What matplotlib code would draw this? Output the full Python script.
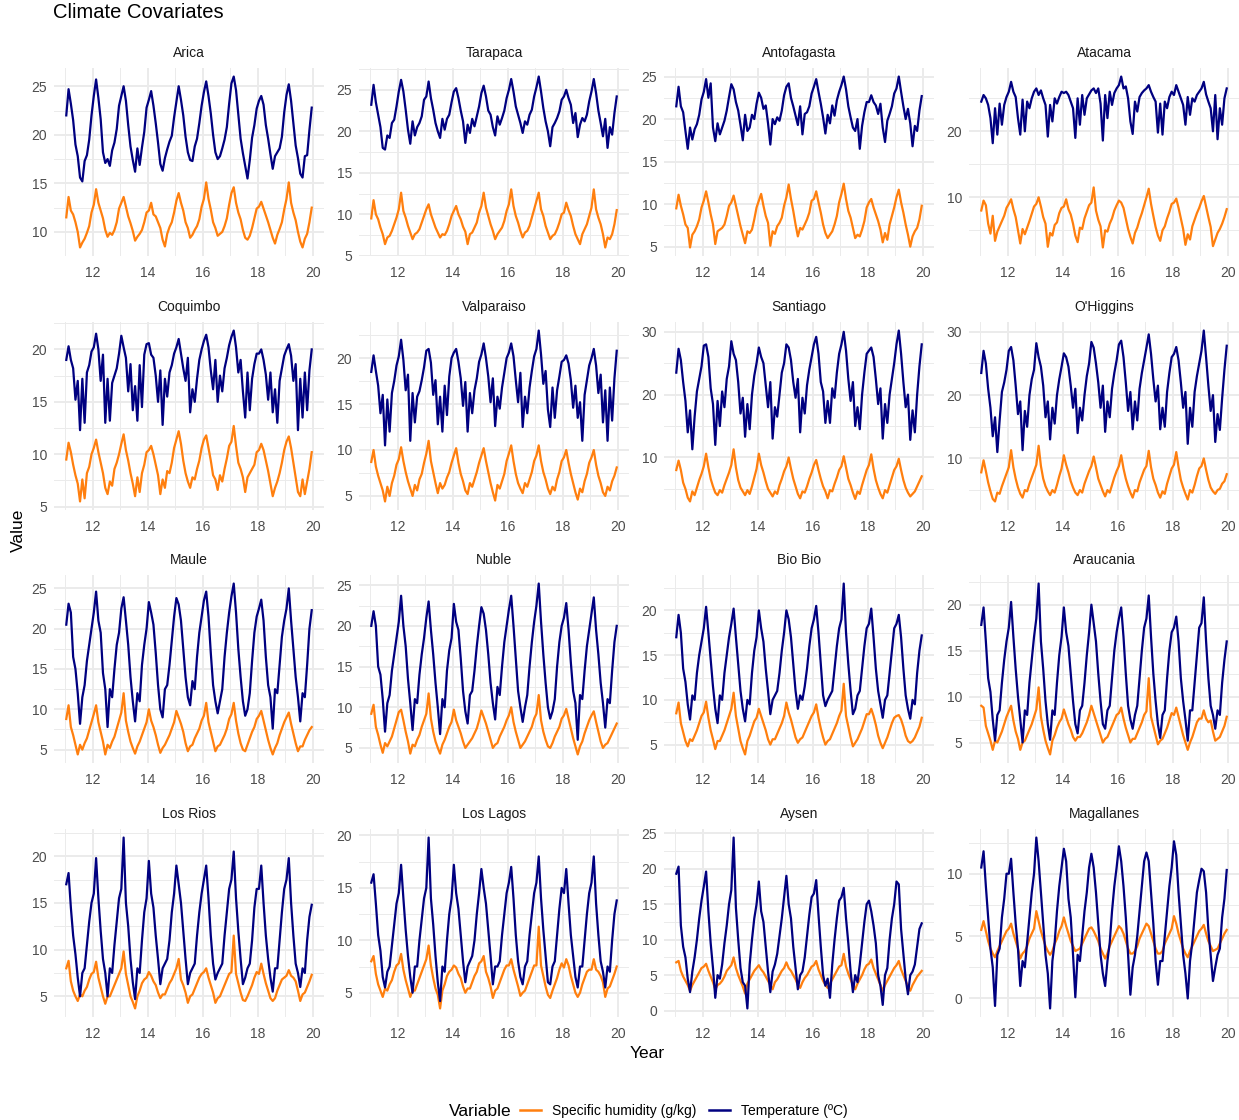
import numpy as np
import matplotlib
matplotlib.use("Agg")
import matplotlib.pyplot as plt
from matplotlib.ticker import MultipleLocator, AutoMinorLocator
from matplotlib.lines import Line2D

plt.rcParams['font.family'] = ['Liberation Sans', 'DejaVu Sans']

# monthly means, Jan 2011 .. Dec 2019 (one row per year)
arica_temp = [22.0, 24.7, 23.2, 21.5, 19.0, 17.8, 15.6, 15.2, 17.3, 17.9, 19.5, 22.0,
              24.0, 25.7, 23.8, 21.6, 18.2, 17.1, 17.5, 16.8, 18.4, 19.2, 20.6, 23.0,
              24.0, 25.0, 23.5, 21.0, 18.8, 17.4, 16.2, 18.6, 16.9, 18.7, 20.3, 22.8,
              23.6, 24.5, 23.0, 21.2, 19.2, 17.0, 16.3, 17.6, 18.5, 19.3, 19.9, 21.8,
              23.4, 25.0, 23.6, 22.0, 19.8, 18.2, 17.4, 17.3, 18.8, 19.6, 21.2, 23.0,
              24.4, 25.5, 24.0, 22.2, 20.0, 18.2, 17.5, 17.8, 18.6, 19.5, 20.8, 23.2,
              25.3, 26.0, 24.6, 22.1, 19.6, 18.1, 16.8, 15.5, 17.4, 19.7, 21.0, 22.7,
              23.5, 24.0, 23.1, 21.0, 19.6, 18.0, 16.5, 17.8, 18.2, 18.6, 19.8, 22.3,
              24.1, 25.2, 23.5, 21.2, 18.9, 17.6, 16.0, 15.6, 17.8, 17.9, 20.5, 22.8]
arica_hum = [11.5, 13.6, 12.2, 11.8, 11.0, 10.0, 8.4, 8.9, 9.3, 9.9, 10.6, 12.0,
             12.8, 14.4, 13.0, 12.2, 11.4, 10.2, 9.5, 9.9, 9.7, 10.2, 11.0, 12.4,
             13.0, 13.6, 12.6, 11.6, 10.9, 10.1, 9.1, 9.5, 9.8, 10.2, 11.0, 12.0,
             12.2, 13.0, 11.8, 11.6, 11.0, 10.4, 9.2, 8.5, 9.8, 10.5, 11.0, 12.0,
             13.2, 14.0, 13.0, 12.2, 11.0, 10.4, 9.4, 9.7, 10.2, 10.6, 11.3, 12.6,
             13.4, 15.1, 13.4, 12.3, 11.0, 10.4, 9.6, 9.8, 10.0, 10.6, 11.4, 12.8,
             14.0, 14.6, 13.0, 12.0, 11.3, 10.2, 9.4, 9.2, 9.6, 10.4, 11.4, 12.4,
             12.6, 13.1, 12.4, 11.7, 11.0, 10.2, 9.4, 8.8, 9.7, 10.3, 11.0, 12.3,
             13.4, 15.1, 13.0, 12.0, 11.2, 10.0, 9.0, 8.4, 9.3, 9.8, 11.0, 12.5]

tarapaca_temp = [23.2, 25.6, 23.5, 22.0, 20.5, 18.0, 17.8, 19.5, 19.2, 21.0, 21.4, 23.0,
                 24.8, 26.2, 24.8, 22.6, 20.2, 18.5, 21.2, 19.5, 20.5, 21.0, 21.8, 23.8,
                 24.2, 26.0, 24.0, 22.6, 21.0, 20.0, 19.2, 21.5, 20.2, 21.5, 22.0, 23.5,
                 24.8, 25.2, 24.0, 22.5, 21.2, 18.6, 20.8, 19.8, 21.5, 20.6, 21.8, 23.0,
                 24.6, 25.5, 24.2, 22.5, 22.0, 20.5, 19.5, 21.8, 20.8, 21.6, 22.5, 24.0,
                 25.0, 26.3, 24.8, 23.0, 22.0, 21.0, 19.8, 21.2, 20.8, 22.0, 22.6, 24.2,
                 25.3, 26.6, 24.8, 22.8, 21.2, 20.0, 18.2, 20.5, 21.0, 21.6, 22.4, 23.8,
                 24.2, 25.0, 24.0, 23.2, 21.0, 22.2, 19.3, 20.8, 21.6, 21.2, 22.0, 23.6,
                 24.8, 26.3, 24.6, 22.5, 21.0, 19.4, 21.5, 18.0, 20.5, 19.6, 22.2, 24.2]
tarapaca_hum = [9.5, 11.7, 10.0, 9.4, 8.4, 7.6, 6.4, 7.2, 7.4, 8.0, 8.8, 9.6,
                10.6, 12.6, 10.4, 9.6, 8.6, 7.8, 7.0, 7.6, 7.8, 8.2, 9.0, 9.8,
                10.6, 11.2, 10.0, 9.2, 8.4, 7.8, 7.2, 7.6, 7.5, 8.0, 8.8, 9.8,
                10.4, 11.0, 10.0, 9.4, 8.5, 7.9, 6.4, 7.6, 7.8, 8.4, 9.0, 10.2,
                11.0, 12.6, 10.8, 9.8, 8.8, 8.0, 7.0, 7.6, 8.0, 8.4, 9.2, 10.4,
                11.2, 13.0, 11.0, 9.8, 9.0, 8.0, 7.2, 7.8, 8.0, 8.6, 9.6, 10.6,
                11.6, 12.6, 10.6, 9.8, 8.6, 7.8, 7.0, 7.4, 7.6, 8.2, 9.0, 10.0,
                10.2, 11.4, 10.5, 9.8, 8.6, 7.6, 7.0, 6.4, 7.6, 8.2, 8.8, 9.8,
                10.8, 13.0, 10.6, 9.6, 8.8, 7.6, 6.0, 7.2, 7.0, 7.6, 8.8, 10.5]

antofagasta_temp = [21.5, 23.8, 21.5, 20.8, 18.6, 16.5, 19.0, 17.6, 18.8, 19.4, 20.5, 22.3,
                    23.2, 24.7, 22.5, 24.2, 19.0, 17.4, 19.5, 18.2, 19.0, 19.8, 21.0, 22.6,
                    24.1, 23.5, 22.0, 21.0, 19.3, 17.5, 20.5, 18.6, 19.0, 20.5, 20.0, 21.8,
                    23.1, 22.5, 21.2, 21.6, 19.5, 17.0, 20.0, 19.4, 20.2, 19.8, 21.0, 22.8,
                    23.8, 24.2, 22.5, 21.5, 20.4, 19.3, 21.5, 18.2, 20.6, 20.8, 21.5, 23.0,
                    23.8, 24.7, 23.2, 21.8, 20.2, 18.3, 20.5, 19.5, 21.6, 20.4, 22.2, 23.2,
                    24.0, 25.0, 23.5, 21.5, 20.2, 19.0, 18.6, 20.0, 16.5, 19.2, 20.8, 22.0,
                    22.0, 22.8, 22.0, 21.6, 20.6, 21.8, 19.0, 17.3, 19.8, 20.6, 21.5, 23.0,
                    23.6, 25.0, 23.2, 21.5, 20.0, 21.2, 19.5, 16.8, 19.2, 18.6, 21.0, 22.7]
antofagasta_hum = [9.5, 11.1, 9.8, 8.8, 7.6, 7.2, 4.9, 6.4, 6.8, 7.4, 8.2, 9.6,
                   10.4, 11.5, 10.2, 8.8, 7.6, 5.3, 6.8, 7.0, 7.2, 7.6, 8.6, 9.8,
                   10.2, 11.0, 9.8, 8.6, 7.4, 6.4, 5.4, 6.8, 6.6, 7.0, 8.2, 9.6,
                   10.4, 11.2, 9.8, 8.6, 7.8, 5.1, 6.8, 6.5, 7.4, 7.8, 8.4, 9.8,
                   10.8, 12.3, 10.6, 9.2, 7.6, 6.2, 7.2, 7.0, 7.6, 8.2, 9.0, 10.4,
                   10.6, 11.5, 10.2, 9.0, 7.6, 6.6, 6.0, 6.4, 6.8, 7.6, 8.6, 10.2,
                   11.2, 12.4, 10.6, 9.2, 8.4, 7.2, 6.0, 6.4, 6.2, 7.0, 8.0, 9.6,
                   10.2, 10.6, 9.6, 8.8, 8.0, 7.0, 5.5, 6.6, 5.8, 7.6, 8.6, 9.6,
                   10.8, 11.7, 10.2, 9.0, 7.6, 6.4, 5.0, 6.2, 6.8, 7.2, 8.2, 9.8]

atacama_temp = [24.5, 25.5, 25.0, 24.0, 22.0, 18.2, 23.5, 19.5, 24.2, 21.0, 24.0, 25.2,
                26.0, 27.5, 26.0, 25.2, 22.0, 19.5, 24.8, 20.0, 24.5, 23.5, 25.0, 26.0,
                26.5, 25.5, 26.2, 25.0, 24.0, 19.2, 24.0, 21.5, 25.0, 24.2, 25.2, 26.0,
                25.8, 26.0, 25.5, 24.5, 23.5, 19.0, 25.0, 21.0, 25.5, 22.5, 25.0, 25.6,
                26.2, 26.5, 25.8, 26.5, 24.2, 18.6, 25.5, 22.0, 26.0, 24.0, 25.8, 26.5,
                27.0, 28.3, 26.5, 26.8, 25.0, 21.5, 19.6, 24.5, 23.0, 25.2, 25.8, 26.2,
                26.5, 27.0, 26.0, 25.2, 24.5, 19.8, 24.2, 19.5, 24.5, 23.5, 25.2, 26.0,
                25.5, 27.0, 26.0, 25.0, 24.0, 21.0, 25.2, 22.5, 25.0, 24.5, 25.5, 26.0,
                26.5, 27.5, 25.6, 24.5, 23.5, 20.0, 25.5, 18.8, 23.5, 21.0, 25.0, 26.5]
atacama_hum = [8.0, 9.5, 8.8, 6.0, 4.5, 7.2, 3.4, 4.8, 5.6, 6.4, 7.2, 8.4,
               9.0, 9.7, 8.2, 7.0, 5.0, 3.0, 5.2, 4.4, 5.4, 6.4, 7.5, 8.6,
               9.0, 10.0, 8.6, 7.0, 6.0, 2.5, 4.6, 4.2, 5.8, 6.2, 7.6, 8.4,
               8.6, 9.7, 8.2, 7.4, 6.0, 4.2, 3.2, 5.4, 5.2, 6.8, 7.8, 8.8,
               9.2, 11.5, 8.0, 6.6, 5.6, 2.4, 5.0, 4.8, 6.0, 6.8, 8.0, 8.8,
               9.5, 9.2, 8.4, 6.8, 5.2, 4.0, 3.0, 4.6, 5.4, 6.6, 7.6, 8.8,
               10.0, 11.3, 9.0, 7.2, 5.5, 4.2, 3.4, 5.0, 5.6, 6.8, 7.8, 9.0,
               9.2, 9.8, 8.4, 6.8, 5.2, 2.8, 4.4, 3.6, 5.6, 6.6, 7.6, 8.4,
               9.4, 10.2, 8.6, 7.0, 5.5, 2.6, 3.6, 4.6, 5.2, 6.0, 7.0, 8.2]

coquimbo_temp = [19.0, 20.3, 19.0, 18.2, 15.2, 17.0, 12.3, 17.2, 13.0, 17.8, 18.5, 19.8,
                 20.2, 21.5, 20.0, 17.0, 19.5, 13.0, 17.2, 13.2, 16.8, 17.5, 18.2, 19.6,
                 21.3, 20.2, 19.2, 16.0, 18.6, 14.2, 16.5, 13.2, 18.5, 14.5, 19.5, 20.5,
                 20.6, 19.5, 19.2, 17.5, 15.0, 18.0, 12.8, 17.2, 15.5, 17.8, 18.5, 19.6,
                 20.2, 21.0, 19.6, 18.2, 17.0, 19.2, 14.0, 16.2, 15.0, 17.2, 19.0, 20.0,
                 20.8, 21.4, 20.2, 18.0, 16.2, 19.0, 15.0, 17.5, 16.0, 18.2, 19.2, 20.4,
                 21.2, 21.8, 20.2, 17.8, 19.0, 16.0, 13.5, 17.8, 14.2, 17.2, 18.6, 19.6,
                 19.6, 20.0, 19.0, 17.6, 15.2, 17.8, 14.0, 16.2, 13.0, 17.0, 18.2, 19.4,
                 20.0, 20.5, 19.4, 17.0, 18.6, 12.3, 17.2, 13.5, 17.8, 14.2, 18.0, 20.0]
coquimbo_hum = [9.5, 11.1, 10.2, 9.0, 8.0, 7.2, 5.5, 7.6, 5.8, 8.2, 8.8, 10.0,
                10.6, 11.4, 10.2, 9.2, 8.2, 6.8, 6.2, 7.4, 7.0, 8.6, 9.2, 10.0,
                11.0, 11.9, 10.4, 9.4, 8.2, 7.2, 6.0, 7.8, 6.4, 8.2, 9.0, 10.2,
                10.4, 10.8, 10.0, 9.0, 8.0, 6.2, 7.6, 6.8, 8.4, 8.2, 9.2, 10.6,
                11.4, 12.2, 11.0, 9.4, 8.2, 7.4, 6.8, 7.8, 7.6, 8.6, 9.4, 10.6,
                11.4, 11.8, 10.6, 9.4, 8.0, 7.6, 6.6, 8.0, 7.4, 8.6, 9.6, 10.8,
                11.2, 12.7, 10.8, 9.2, 8.6, 7.8, 6.4, 7.8, 8.2, 8.6, 9.0, 10.2,
                10.4, 11.0, 10.4, 9.4, 8.4, 7.2, 6.0, 6.8, 7.4, 8.2, 9.2, 10.4,
                11.2, 11.7, 10.6, 9.2, 7.8, 6.4, 6.0, 7.6, 6.2, 7.4, 8.6, 10.2]

valparaiso_temp = [18.5, 20.3, 18.6, 17.0, 14.0, 16.0, 10.5, 15.5, 12.0, 16.2, 17.5, 19.2,
                   20.2, 22.0, 19.8, 16.5, 18.2, 11.0, 16.2, 13.0, 15.8, 16.4, 17.6, 19.0,
                   20.8, 21.0, 19.5, 16.0, 17.6, 12.8, 15.8, 12.0, 17.0, 13.8, 18.0, 20.0,
                   20.6, 21.0, 19.6, 17.8, 14.8, 17.4, 12.0, 16.2, 14.0, 16.5, 17.8, 19.6,
                   20.4, 21.6, 20.0, 18.0, 15.2, 17.8, 12.6, 15.8, 14.5, 16.8, 18.4, 20.0,
                   20.6, 21.6, 20.2, 17.6, 15.2, 18.4, 12.5, 15.8, 14.0, 16.8, 18.6, 20.2,
                   21.0, 23.0, 20.4, 17.2, 18.6, 14.4, 12.5, 16.8, 13.5, 16.5, 18.0, 19.6,
                   19.8, 20.3, 19.4, 17.6, 14.6, 17.0, 13.5, 15.2, 11.0, 16.0, 17.6, 19.2,
                   20.0, 21.0, 19.2, 16.2, 18.2, 13.0, 16.5, 11.0, 16.8, 13.2, 17.8, 20.8]
valparaiso_hum = [8.7, 10.0, 8.2, 7.2, 6.4, 5.6, 4.4, 6.0, 5.0, 6.4, 7.2, 8.4,
                  9.0, 10.3, 8.8, 7.6, 6.6, 5.8, 5.0, 6.2, 5.6, 6.8, 7.4, 8.6,
                  9.6, 11.0, 8.8, 7.6, 6.4, 5.3, 6.4, 5.8, 6.2, 7.0, 7.6, 8.6,
                  9.4, 10.2, 8.6, 7.4, 6.6, 5.6, 5.2, 6.4, 6.0, 6.8, 7.6, 8.6,
                  9.4, 10.2, 8.8, 7.6, 6.4, 5.4, 4.5, 6.2, 5.8, 6.6, 7.4, 8.8,
                  9.6, 10.5, 8.8, 7.4, 6.4, 5.8, 5.3, 6.4, 6.0, 6.8, 7.6, 8.8,
                  9.4, 10.5, 8.8, 7.6, 6.8, 5.8, 5.2, 6.0, 5.6, 6.8, 7.6, 8.8,
                  9.2, 10.0, 8.6, 7.4, 6.4, 5.4, 4.6, 5.8, 5.4, 6.6, 7.4, 8.6,
                  9.2, 10.0, 8.4, 7.2, 6.4, 5.4, 5.0, 6.0, 5.6, 6.6, 7.2, 8.1]

santiago_temp = [23.5, 27.3, 25.5, 22.0, 19.0, 14.0, 17.5, 11.3, 16.5, 20.5, 22.5, 24.5,
                 27.8, 28.0, 26.0, 21.0, 18.5, 12.0, 19.0, 15.0, 20.5, 18.0, 22.5, 24.5,
                 28.5, 26.5, 25.5, 22.0, 17.0, 19.5, 13.3, 18.5, 14.5, 20.0, 23.0, 25.0,
                 27.5, 26.0, 25.0, 21.5, 18.0, 22.0, 13.0, 18.0, 16.5, 20.0, 23.5, 25.0,
                 28.0, 27.5, 25.5, 22.0, 19.5, 22.5, 14.0, 19.5, 17.0, 21.5, 24.0, 26.0,
                 28.0, 29.2, 26.5, 22.0, 20.5, 15.5, 19.0, 15.5, 21.0, 19.5, 23.5, 26.5,
                 28.0, 30.0, 27.0, 22.5, 19.0, 22.0, 15.0, 18.0, 14.5, 20.0, 23.5, 26.5,
                 27.0, 27.5, 26.0, 22.5, 18.5, 21.0, 13.0, 18.5, 15.5, 20.0, 22.5, 25.0,
                 28.0, 30.2, 26.5, 22.0, 18.0, 20.0, 12.8, 17.5, 14.0, 20.0, 24.5, 28.0]
santiago_hum = [8.0, 9.5, 8.0, 6.0, 5.0, 3.6, 3.0, 4.6, 4.0, 5.2, 6.4, 7.4,
                8.6, 10.6, 8.4, 6.6, 5.4, 4.4, 4.0, 4.8, 4.4, 5.6, 6.6, 7.6,
                8.8, 11.3, 8.4, 6.4, 5.2, 4.6, 4.0, 4.8, 4.2, 5.4, 6.8, 8.2,
                10.6, 8.8, 7.6, 6.2, 5.0, 4.4, 3.8, 4.6, 4.2, 5.6, 6.6, 7.8,
                8.6, 10.0, 8.2, 6.6, 5.4, 4.2, 3.5, 4.6, 4.4, 5.4, 6.6, 7.6,
                8.8, 9.6, 8.0, 6.6, 5.4, 4.6, 3.5, 4.8, 4.6, 5.8, 6.8, 8.0,
                8.6, 10.2, 8.4, 6.6, 5.6, 4.4, 3.4, 4.6, 4.2, 5.6, 6.8, 8.0,
                8.8, 10.5, 8.2, 6.4, 5.2, 4.2, 3.5, 4.8, 4.4, 5.6, 6.8, 8.0,
                8.6, 9.8, 8.0, 6.4, 5.2, 4.4, 3.8, 4.2, 4.6, 5.4, 6.2, 7.0]

ohiggins_temp = [23.5, 27.0, 25.0, 21.0, 18.0, 13.5, 16.5, 11.0, 16.0, 20.5, 22.0, 24.0,
                 27.0, 27.6, 25.5, 21.5, 17.0, 19.0, 11.3, 17.5, 15.0, 20.0, 22.5, 24.0,
                 28.2, 26.0, 24.5, 21.5, 16.5, 19.0, 13.0, 18.0, 15.5, 20.0, 22.5, 24.5,
                 26.6, 26.0, 24.5, 21.5, 18.0, 21.0, 14.0, 18.0, 16.0, 20.0, 23.0, 25.0,
                 28.4, 27.5, 25.0, 22.0, 18.0, 21.5, 14.2, 19.0, 16.5, 21.0, 23.5, 25.5,
                 28.0, 28.6, 26.0, 22.0, 17.5, 20.5, 14.6, 19.0, 16.0, 21.0, 23.5, 25.5,
                 27.5, 29.6, 26.5, 22.5, 19.0, 21.5, 14.6, 18.0, 15.0, 20.5, 23.5, 26.0,
                 26.5, 27.6, 25.5, 22.0, 18.0, 20.5, 12.3, 18.0, 15.0, 20.5, 23.0, 25.0,
                 27.0, 30.2, 26.0, 21.5, 17.5, 20.0, 12.6, 17.0, 14.5, 19.5, 24.0, 27.8]
ohiggins_hum = [7.8, 9.7, 8.0, 6.2, 4.8, 3.6, 3.2, 4.6, 4.4, 5.6, 6.6, 7.6,
                8.6, 11.3, 8.6, 6.8, 5.4, 4.4, 3.8, 5.0, 4.8, 6.0, 7.0, 8.0,
                9.0, 12.0, 8.8, 6.8, 5.6, 4.8, 4.2, 5.0, 4.6, 5.8, 7.2, 8.4,
                10.5, 9.0, 7.8, 6.4, 5.4, 4.6, 4.2, 5.0, 4.6, 6.0, 7.0, 8.0,
                8.8, 10.3, 8.6, 6.8, 5.8, 4.8, 4.0, 5.0, 4.6, 5.8, 7.0, 8.0,
                8.8, 10.5, 8.4, 6.8, 5.6, 4.6, 3.8, 5.0, 4.8, 6.2, 7.2, 8.2,
                8.8, 11.2, 8.6, 6.8, 5.8, 4.6, 3.8, 4.8, 4.4, 6.0, 7.2, 8.4,
                9.0, 11.0, 8.6, 6.6, 5.4, 4.4, 3.5, 5.0, 4.6, 5.8, 7.2, 8.4,
                8.8, 10.0, 8.2, 6.6, 5.4, 4.8, 4.4, 5.0, 5.2, 6.0, 6.4, 7.5]

maule_temp = [20.5, 23.1, 22.0, 16.5, 15.0, 12.0, 8.2, 11.5, 13.0, 16.0, 18.0, 20.0,
              22.0, 24.6, 21.0, 19.5, 14.5, 12.5, 7.8, 12.5, 11.5, 15.0, 18.0, 19.5,
              22.5, 23.9, 21.0, 18.0, 14.0, 11.0, 8.5, 12.0, 11.0, 15.5, 18.0, 20.0,
              23.3, 22.0, 20.5, 17.0, 13.0, 10.0, 9.0, 12.5, 13.0, 15.5, 18.5, 21.5,
              23.8, 23.0, 21.0, 17.5, 14.0, 11.5, 10.5, 13.5, 12.5, 16.5, 19.5, 21.5,
              23.5, 24.6, 21.5, 17.0, 13.0, 11.0, 9.5, 11.0, 12.5, 16.5, 19.5, 22.0,
              24.0, 25.6, 22.0, 17.5, 14.0, 11.0, 9.2, 10.0, 12.0, 16.0, 19.5, 21.5,
              22.5, 23.6, 21.0, 16.5, 13.0, 11.5, 7.6, 12.5, 12.0, 15.5, 19.0, 21.0,
              22.5, 25.0, 21.0, 17.5, 14.0, 11.5, 8.5, 12.0, 11.5, 15.5, 20.0, 22.3]
maule_hum = [8.8, 10.5, 7.8, 6.8, 5.6, 4.4, 5.6, 5.0, 5.8, 6.4, 7.4, 8.4,
             9.4, 10.5, 8.4, 7.2, 6.0, 4.4, 5.6, 5.2, 6.0, 6.6, 7.6, 8.6,
             9.6, 12.0, 8.6, 7.2, 6.0, 5.2, 4.5, 5.4, 6.0, 6.8, 7.6, 8.4,
             10.0, 8.6, 7.8, 6.8, 5.6, 4.6, 5.2, 5.6, 6.2, 6.8, 7.6, 8.4,
             9.8, 9.0, 8.2, 7.2, 5.8, 4.8, 5.4, 5.6, 6.4, 7.0, 7.6, 8.6,
             9.2, 10.8, 8.4, 7.2, 6.0, 4.8, 5.4, 5.6, 6.2, 6.8, 7.6, 8.8,
             9.4, 10.8, 8.6, 7.0, 5.8, 5.0, 4.8, 5.6, 6.4, 7.2, 7.8, 8.8,
             9.2, 9.8, 8.6, 7.4, 6.2, 5.2, 4.4, 5.2, 5.8, 6.8, 7.6, 8.4,
             9.0, 9.6, 8.2, 7.0, 5.8, 4.8, 5.4, 5.4, 6.2, 6.8, 7.4, 7.8]

nuble_temp = [20.0, 21.8, 20.0, 15.0, 14.0, 11.0, 7.0, 10.5, 11.5, 14.5, 16.5, 18.5,
              20.5, 23.7, 20.0, 17.5, 13.5, 10.5, 7.2, 11.0, 10.5, 14.0, 16.5, 18.5,
              21.0, 23.0, 19.5, 16.5, 13.0, 10.0, 6.7, 11.0, 10.0, 14.5, 17.0, 18.5,
              22.7, 20.5, 19.5, 16.0, 12.0, 9.5, 8.0, 11.5, 12.0, 14.5, 17.5, 20.0,
              22.3, 21.5, 19.5, 16.5, 13.0, 10.5, 8.5, 12.5, 11.5, 15.0, 18.0, 20.0,
              22.0, 23.7, 20.0, 16.0, 12.0, 10.0, 8.2, 10.0, 11.5, 15.0, 18.0, 20.5,
              22.5, 25.2, 20.5, 16.5, 13.0, 10.0, 8.6, 9.5, 11.0, 15.0, 18.0, 20.0,
              21.0, 22.8, 19.5, 15.5, 12.0, 10.5, 6.0, 11.5, 11.0, 14.5, 17.5, 19.5,
              21.5, 23.5, 19.5, 16.5, 13.0, 10.5, 7.5, 11.0, 10.5, 14.5, 18.0, 20.0]
nuble_hum = [9.2, 10.3, 7.6, 6.6, 5.4, 4.4, 5.6, 5.2, 5.8, 6.4, 7.4, 8.4,
             9.4, 9.7, 8.4, 7.0, 5.8, 4.3, 5.4, 5.2, 6.0, 6.6, 7.6, 8.4,
             9.2, 11.7, 8.6, 7.0, 5.8, 5.0, 4.3, 5.4, 6.0, 6.8, 7.6, 8.2,
             9.7, 8.4, 7.6, 6.8, 5.8, 5.0, 5.4, 5.8, 6.2, 6.8, 7.4, 8.4,
             9.6, 8.8, 8.0, 7.0, 6.0, 5.0, 5.4, 5.6, 6.4, 7.0, 7.6, 8.4,
             9.0, 10.0, 8.2, 7.0, 6.0, 5.0, 5.4, 5.8, 6.4, 7.0, 7.6, 8.6,
             9.2, 11.5, 8.4, 7.0, 6.0, 5.2, 5.0, 5.6, 6.4, 7.0, 7.6, 8.6,
             9.0, 9.8, 8.6, 7.4, 6.2, 5.2, 4.2, 5.2, 5.8, 6.8, 7.6, 8.4,
             9.0, 9.5, 8.2, 7.0, 5.8, 5.0, 5.4, 5.6, 6.2, 6.8, 7.4, 8.0]

biobio_temp = [17.0, 19.5, 17.5, 13.5, 12.0, 9.5, 7.8, 10.5, 10.0, 13.0, 15.0, 16.5,
               18.0, 20.4, 17.5, 14.5, 11.5, 9.0, 7.4, 10.5, 10.0, 13.0, 15.0, 17.0,
               18.5, 20.2, 17.0, 14.0, 11.0, 9.0, 7.6, 10.0, 9.5, 13.0, 15.5, 17.0,
               20.0, 18.0, 16.5, 13.5, 11.0, 8.4, 10.0, 10.5, 11.0, 13.0, 15.5, 17.5,
               20.0, 19.0, 17.0, 14.0, 11.0, 9.0, 10.5, 10.0, 11.5, 13.5, 16.0, 18.0,
               19.0, 20.5, 17.5, 14.0, 10.5, 9.3, 10.0, 10.5, 11.0, 13.5, 16.0, 18.0,
               19.0, 23.0, 17.5, 14.0, 11.0, 8.4, 9.0, 10.5, 11.0, 13.5, 16.0, 18.0,
               18.5, 20.2, 17.0, 13.5, 11.0, 9.5, 8.0, 10.0, 10.5, 13.0, 15.5, 18.0,
               18.5, 19.5, 17.0, 13.5, 10.5, 9.0, 7.9, 10.0, 9.5, 13.0, 15.5, 17.2]
biobio_hum = [8.5, 9.7, 7.4, 6.4, 5.4, 4.8, 5.6, 5.4, 6.0, 6.6, 7.4, 8.2,
              8.6, 9.8, 8.0, 6.6, 5.6, 4.5, 5.4, 5.4, 6.0, 6.6, 7.4, 8.2,
              9.0, 10.8, 8.2, 6.8, 5.4, 4.6, 3.9, 5.4, 6.0, 6.8, 7.6, 8.0,
              9.0, 8.2, 7.4, 6.6, 5.6, 5.0, 5.6, 5.6, 6.2, 6.8, 7.4, 8.2,
              9.7, 8.6, 7.8, 6.8, 5.8, 5.2, 5.6, 5.8, 6.4, 7.0, 7.6, 8.2,
              8.6, 9.5, 8.0, 6.8, 5.8, 5.0, 5.4, 5.6, 6.2, 6.8, 7.4, 8.2,
              8.8, 11.8, 8.2, 7.0, 5.8, 4.8, 5.2, 5.6, 6.2, 6.8, 7.6, 8.4,
              8.4, 9.0, 8.2, 7.2, 6.0, 5.2, 4.6, 5.2, 5.8, 6.6, 7.4, 8.0,
              8.2, 8.3, 7.8, 7.0, 6.0, 5.4, 5.2, 5.4, 5.8, 6.4, 7.0, 8.0]

araucania_temp = [17.8, 19.7, 16.0, 12.0, 10.5, 7.5, 5.2, 8.0, 8.5, 11.5, 14.0, 16.0,
                  17.5, 20.3, 16.5, 13.0, 10.0, 7.5, 5.0, 8.5, 8.0, 11.5, 14.0, 16.5,
                  18.5, 22.3, 16.0, 13.0, 9.5, 7.0, 5.3, 8.5, 8.0, 11.5, 14.5, 16.5,
                  19.7, 17.0, 15.5, 12.5, 9.5, 7.0, 6.0, 8.5, 9.0, 11.5, 14.5, 17.0,
                  20.0, 18.0, 16.0, 12.5, 9.5, 7.0, 6.5, 8.5, 9.0, 12.0, 15.0, 17.0,
                  18.5, 19.7, 16.5, 12.5, 9.0, 7.5, 6.5, 8.0, 9.0, 12.0, 15.0, 17.5,
                  18.5, 21.0, 16.5, 12.5, 9.5, 7.0, 5.5, 8.0, 8.5, 12.0, 15.0, 17.0,
                  17.5, 18.7, 16.0, 12.0, 9.5, 7.5, 5.2, 8.5, 8.5, 11.5, 14.5, 17.5,
                  18.0, 20.8, 16.0, 12.0, 9.0, 8.0, 6.5, 8.5, 8.0, 11.5, 14.0, 16.0]
araucania_hum = [9.0, 8.8, 6.8, 6.0, 5.2, 4.2, 5.2, 5.0, 5.6, 6.2, 7.0, 7.8,
                 8.4, 9.0, 7.4, 6.2, 5.4, 4.2, 5.0, 5.2, 5.8, 6.4, 7.0, 7.8,
                 8.6, 11.0, 7.8, 6.4, 5.2, 4.4, 3.7, 5.2, 5.8, 6.6, 7.2, 7.6,
                 8.6, 7.8, 7.0, 6.4, 5.6, 5.2, 5.6, 5.6, 6.0, 6.6, 7.2, 8.0,
                 9.0, 8.2, 7.4, 6.6, 5.8, 5.0, 5.4, 5.6, 6.2, 6.8, 7.4, 8.0,
                 8.2, 8.8, 7.6, 6.6, 5.8, 5.0, 5.4, 5.4, 6.0, 6.6, 7.2, 8.0,
                 8.4, 12.0, 7.8, 6.8, 5.8, 4.8, 5.2, 5.4, 6.0, 6.6, 7.4, 8.2,
                 8.0, 8.8, 7.8, 6.8, 5.8, 5.0, 4.2, 5.0, 5.6, 6.4, 7.2, 7.6,
                 7.6, 8.5, 7.6, 7.2, 7.4, 6.2, 5.2, 5.4, 5.6, 6.2, 6.8, 7.8]

losrios_temp = [17.0, 18.2, 14.5, 11.5, 9.5, 7.0, 5.0, 7.5, 8.0, 10.5, 13.0, 15.0,
                16.0, 19.8, 15.5, 12.0, 9.0, 7.5, 5.0, 8.0, 7.5, 10.5, 13.0, 15.5,
                16.5, 22.0, 15.0, 12.5, 9.0, 6.5, 4.7, 8.0, 7.5, 11.0, 14.0, 15.5,
                19.5, 16.0, 14.5, 11.5, 9.0, 6.3, 8.0, 8.5, 9.0, 11.0, 14.0, 16.0,
                19.0, 17.0, 15.0, 12.0, 9.0, 6.3, 7.5, 8.0, 8.5, 11.5, 14.0, 16.0,
                17.5, 19.0, 15.5, 11.5, 8.5, 6.8, 7.5, 8.0, 8.5, 11.5, 14.0, 16.5,
                17.5, 20.5, 15.5, 12.0, 9.0, 6.3, 7.0, 8.0, 8.5, 11.0, 14.5, 16.5,
                16.5, 19.0, 15.0, 11.5, 9.0, 7.0, 5.5, 8.0, 8.0, 11.0, 14.0, 16.5,
                17.5, 19.8, 15.0, 11.5, 8.5, 7.5, 6.0, 8.0, 7.5, 11.0, 13.5, 14.8]
losrios_hum = [8.0, 8.8, 6.6, 5.6, 5.0, 4.5, 5.2, 5.0, 5.6, 6.0, 6.8, 7.4,
               7.6, 8.7, 7.0, 6.0, 5.0, 4.2, 5.0, 5.0, 5.6, 6.2, 6.8, 7.4,
               8.0, 9.8, 7.4, 6.2, 5.0, 4.4, 3.7, 5.0, 5.6, 6.4, 6.8, 7.0,
               7.6, 7.2, 6.6, 6.2, 5.4, 4.8, 5.2, 5.2, 5.8, 6.4, 6.8, 7.4,
               8.0, 9.0, 6.8, 6.2, 5.4, 4.3, 5.0, 5.2, 5.8, 6.4, 7.0, 7.4,
               7.6, 8.0, 7.0, 6.2, 5.4, 4.3, 4.8, 5.0, 5.6, 6.2, 6.8, 7.4,
               7.6, 11.5, 7.4, 6.4, 5.4, 4.6, 4.5, 5.0, 5.6, 6.2, 7.0, 7.6,
               7.4, 8.5, 7.4, 6.4, 5.6, 4.8, 4.5, 4.8, 5.6, 6.2, 6.8, 7.0,
               7.2, 7.8, 7.2, 7.0, 6.6, 5.6, 4.5, 5.2, 5.4, 6.0, 6.6, 7.3]

loslagos_temp = [15.5, 16.3, 13.5, 10.5, 9.0, 6.5, 5.5, 7.0, 7.5, 9.5, 11.5, 13.5,
                 14.5, 17.2, 14.0, 11.0, 8.5, 6.5, 5.0, 7.5, 7.5, 10.0, 12.0, 14.0,
                 15.0, 19.8, 14.0, 11.5, 8.5, 6.0, 4.2, 7.5, 7.0, 10.0, 12.5, 14.0,
                 17.2, 14.5, 13.0, 10.5, 8.0, 6.0, 7.5, 8.0, 8.5, 10.0, 12.5, 14.5,
                 16.8, 15.0, 13.5, 11.0, 8.5, 5.8, 7.5, 7.5, 8.0, 10.5, 12.5, 14.5,
                 15.5, 17.0, 14.0, 10.5, 8.0, 6.5, 5.8, 7.5, 8.0, 10.5, 12.5, 14.5,
                 15.5, 18.0, 14.0, 11.0, 8.5, 6.0, 5.8, 7.5, 8.0, 10.5, 13.0, 15.0,
                 14.5, 16.8, 13.5, 10.5, 8.5, 6.5, 5.5, 7.5, 7.5, 10.0, 12.5, 14.5,
                 15.5, 18.0, 13.5, 10.5, 8.0, 7.0, 5.5, 7.5, 7.0, 10.0, 12.5, 13.8]
loslagos_hum = [8.0, 8.5, 6.8, 5.8, 5.2, 4.6, 5.4, 5.2, 5.8, 6.2, 7.0, 7.6,
                7.8, 8.7, 7.2, 6.2, 5.4, 4.6, 5.2, 5.2, 5.8, 6.4, 7.0, 7.6,
                8.2, 9.5, 7.6, 6.4, 5.4, 4.8, 3.5, 5.2, 5.8, 6.6, 7.0, 7.2,
                7.6, 7.4, 6.8, 6.4, 5.6, 5.0, 5.4, 5.4, 6.0, 6.6, 7.0, 7.8,
                8.0, 8.5, 7.0, 6.4, 5.6, 4.5, 5.2, 5.4, 6.0, 6.6, 7.2, 7.6,
                7.6, 8.2, 7.2, 6.4, 5.6, 4.7, 5.0, 5.2, 5.8, 6.4, 7.0, 7.6,
                7.6, 11.3, 7.6, 6.6, 5.6, 4.8, 4.5, 5.2, 5.8, 6.4, 7.2, 7.8,
                7.4, 8.2, 7.6, 6.6, 5.8, 5.0, 4.6, 5.0, 5.8, 6.4, 7.0, 7.2,
                7.2, 8.2, 7.2, 7.0, 6.6, 6.0, 4.6, 5.4, 5.6, 6.2, 6.8, 7.5]

aysen_temp = [19.3, 20.3, 12.0, 9.0, 7.5, 4.5, 2.6, 5.5, 7.5, 10.0, 13.0, 15.5,
              17.5, 19.6, 14.0, 9.5, 6.0, 1.8, 5.0, 4.5, 6.5, 9.5, 12.0, 15.0,
              17.0, 24.4, 14.5, 10.0, 6.0, 4.0, 3.5, 0.3, 6.5, 10.0, 13.0, 15.0,
              18.2, 14.0, 12.5, 9.0, 5.5, 2.6, 5.5, 6.5, 8.0, 10.5, 13.0, 16.0,
              19.0, 15.0, 13.0, 9.0, 6.0, 3.0, 5.0, 5.5, 7.5, 10.5, 13.5, 16.0,
              16.5, 18.4, 13.5, 9.0, 5.0, 3.5, 4.5, 1.8, 6.5, 10.0, 13.0, 15.5,
              16.0, 17.3, 13.0, 9.5, 5.5, 2.6, 5.0, 4.0, 6.5, 9.5, 12.5, 15.0,
              15.5, 14.0, 12.0, 9.5, 5.0, 3.5, 0.8, 5.0, 6.0, 10.0, 13.0, 15.0,
              18.2, 17.8, 11.5, 8.0, 4.5, 2.3, 5.0, 5.5, 6.5, 9.0, 11.5, 12.3]
aysen_hum = [6.8, 7.0, 5.6, 4.8, 4.2, 3.6, 2.8, 3.6, 4.2, 4.8, 5.4, 6.0,
             6.2, 6.6, 5.6, 4.8, 4.0, 3.0, 3.6, 3.8, 4.2, 4.8, 5.6, 6.0,
             6.4, 7.5, 6.0, 5.0, 4.2, 3.4, 2.4, 3.8, 4.4, 5.0, 5.6, 6.0,
             6.4, 5.8, 5.4, 4.8, 4.2, 3.6, 3.0, 4.0, 4.4, 5.0, 5.6, 6.0,
             6.8, 6.0, 5.6, 5.0, 4.4, 3.6, 3.2, 4.0, 4.6, 5.0, 5.6, 6.2,
             6.4, 7.0, 5.8, 5.0, 4.2, 3.6, 3.2, 3.8, 4.4, 5.0, 5.6, 6.2,
             6.4, 8.0, 6.2, 5.2, 4.4, 3.6, 3.0, 3.8, 4.4, 5.0, 5.8, 6.4,
             6.6, 7.2, 6.0, 5.2, 4.4, 3.6, 2.8, 3.6, 4.2, 4.8, 5.4, 6.0,
             6.4, 7.0, 5.8, 5.0, 4.2, 3.4, 2.8, 3.6, 4.2, 4.8, 5.2, 5.6]

magallanes_temp = [10.5, 11.8, 9.0, 6.5, 4.0, 2.5, -0.6, 3.5, 4.0, 6.5, 8.0, 10.0,
                   10.0, 11.2, 8.5, 6.0, 4.0, 1.0, 3.0, 2.5, 4.5, 6.5, 8.5, 10.0,
                   12.9, 11.0, 8.5, 6.0, 3.5, 2.0, -0.8, 3.0, 4.5, 7.0, 9.0, 10.5,
                   12.0, 11.0, 8.0, 6.5, 3.5, 0.1, 3.5, 3.0, 5.0, 7.0, 8.5, 10.5,
                   11.6, 10.5, 8.5, 6.0, 3.5, 2.0, 1.0, 3.0, 4.5, 7.0, 9.0, 10.5,
                   12.2, 11.0, 9.0, 6.5, 3.5, 0.3, 2.5, 3.5, 5.0, 7.0, 9.0, 11.0,
                   11.7, 11.0, 8.5, 6.0, 3.0, 1.1, 3.0, 3.0, 5.0, 7.0, 9.0, 10.5,
                   12.6, 11.5, 8.5, 6.0, 3.5, 2.0, 0.0, 3.0, 4.5, 6.5, 8.5, 9.5,
                   10.4, 10.2, 8.5, 5.5, 3.5, 1.4, 2.5, 3.5, 4.0, 6.5, 8.0, 10.3]
magallanes_hum = [5.5, 6.2, 5.4, 4.6, 4.0, 3.6, 3.3, 3.8, 4.2, 4.6, 5.0, 5.4,
                  5.6, 6.0, 5.2, 4.6, 4.0, 3.2, 3.6, 3.8, 4.2, 4.8, 5.2, 5.6,
                  7.0, 6.2, 5.4, 4.8, 4.2, 3.8, 3.5, 3.8, 4.4, 4.8, 5.4, 5.8,
                  6.5, 5.8, 5.2, 4.6, 4.2, 3.8, 3.9, 4.0, 4.4, 4.8, 5.2, 5.6,
                  5.7, 5.4, 5.0, 4.6, 4.0, 3.6, 3.2, 3.6, 4.2, 4.6, 5.0, 5.4,
                  5.8, 5.6, 5.2, 4.6, 4.0, 3.6, 3.6, 3.8, 4.2, 4.8, 5.2, 5.6,
                  6.0, 5.8, 5.2, 4.6, 4.0, 3.6, 3.6, 3.8, 4.4, 4.8, 5.2, 5.6,
                  6.6, 6.0, 5.2, 4.6, 4.0, 3.6, 3.3, 3.8, 4.2, 4.6, 5.0, 5.4,
                  5.6, 5.9, 5.2, 4.6, 4.2, 3.8, 3.9, 4.0, 4.4, 4.8, 5.2, 5.5]

regions = ["Arica", "Tarapaca", "Antofagasta", "Atacama",
           "Coquimbo", "Valparaiso", "Santiago", "O'Higgins",
           "Maule", "Nuble", "Bio Bio", "Araucania",
           "Los Rios", "Los Lagos", "Aysen", "Magallanes"]
temperature = [arica_temp, tarapaca_temp, antofagasta_temp, atacama_temp,
               coquimbo_temp, valparaiso_temp, santiago_temp, ohiggins_temp,
               maule_temp, nuble_temp, biobio_temp, araucania_temp,
               losrios_temp, loslagos_temp, aysen_temp, magallanes_temp]
humidity = [arica_hum, tarapaca_hum, antofagasta_hum, atacama_hum,
            coquimbo_hum, valparaiso_hum, santiago_hum, ohiggins_hum,
            maule_hum, nuble_hum, biobio_hum, araucania_hum,
            losrios_hum, loslagos_hum, aysen_hum, magallanes_hum]
y_step = [5, 5, 5, 10, 5, 5, 10, 10, 5, 5, 5, 5, 5, 5, 5, 5]

year = 11 + (np.arange(108) + 0.5) / 12   # two-digit year, month centres

hum_color = "#FF7F0E"
temp_color = "#000080"
grid_color = "#EBEBEB"
text_grey = "#4D4D4D"

W, H = 1239, 1120
fig = plt.figure(figsize=(W / 100, H / 100), dpi=100)

lefts = [54, 359, 664, 969]
tops = [68, 322, 575, 829]
pw, ph = 270, 188

for i, name in enumerate(regions):
    r, c = divmod(i, 4)
    ax = fig.add_axes([lefts[c] / W, 1 - (tops[r] + ph) / H, pw / W, ph / H])
    t = np.array(temperature[i])
    h = np.array(humidity[i])
    ax.plot(year, h, color=hum_color, lw=1.6, zorder=3)
    ax.plot(year, t, color=temp_color, lw=1.6, zorder=4)

    lo = min(t.min(), h.min())
    hi = max(t.max(), h.max())
    ax.set_ylim(lo - 0.05 * (hi - lo), hi + 0.05 * (hi - lo))
    xr = year.max() - year.min()
    ax.set_xlim(year.min() - 0.05 * xr, year.max() + 0.05 * xr)

    ax.xaxis.set_major_locator(MultipleLocator(2))
    ax.xaxis.set_minor_locator(MultipleLocator(1))
    ax.yaxis.set_major_locator(MultipleLocator(y_step[i]))
    ax.yaxis.set_minor_locator(AutoMinorLocator(2))
    ax.xaxis.set_major_formatter(plt.FuncFormatter(lambda v, p: "%d" % v))
    ax.yaxis.set_major_formatter(plt.FuncFormatter(lambda v, p: "%d" % v))

    ax.grid(which="major", color=grid_color, lw=1.4, zorder=0)
    ax.grid(which="minor", color=grid_color, lw=0.7, zorder=0)
    ax.set_axisbelow(True)
    for s in ax.spines.values():
        s.set_visible(False)
    ax.tick_params(which="both", length=0, labelsize=10, labelcolor=text_grey)
    ax.tick_params(axis="x", pad=7)
    ax.tick_params(axis="y", pad=5)
    ax.text(0.5, 1 + 15 / ph, name, transform=ax.transAxes, ha="center",
            va="center", fontsize=10, color="#1A1A1A")

fig.text(53 / W, 1 - 13 / H, "Climate Covariates", fontsize=14.5,
         ha="left", va="center")
fig.text(18 / W, 1 - 530 / H, "Value", fontsize=12.5, rotation=90,
         ha="center", va="center")
fig.text(647 / W, 1 - 1053 / H, "Year", fontsize=12.5, ha="center", va="center")

# legend along the bottom
fig.text(449 / W, 1 - 1111 / H, "Variable", fontsize=12.5, ha="left", va="center")
handles = [Line2D([], [], color=hum_color, lw=1.8),
           Line2D([], [], color=temp_color, lw=1.8)]
fig.legend(handles, ["Specific humidity (g/kg)", "Temperature (ºC)"],
           loc="center left", bbox_to_anchor=(520 / W, 1 - 1111 / H),
           ncol=2, frameon=False, fontsize=10, handlelength=1.5,
           handletextpad=0.8, columnspacing=0.9, borderpad=0, borderaxespad=0)

fig.savefig("out.png", dpi=100)
